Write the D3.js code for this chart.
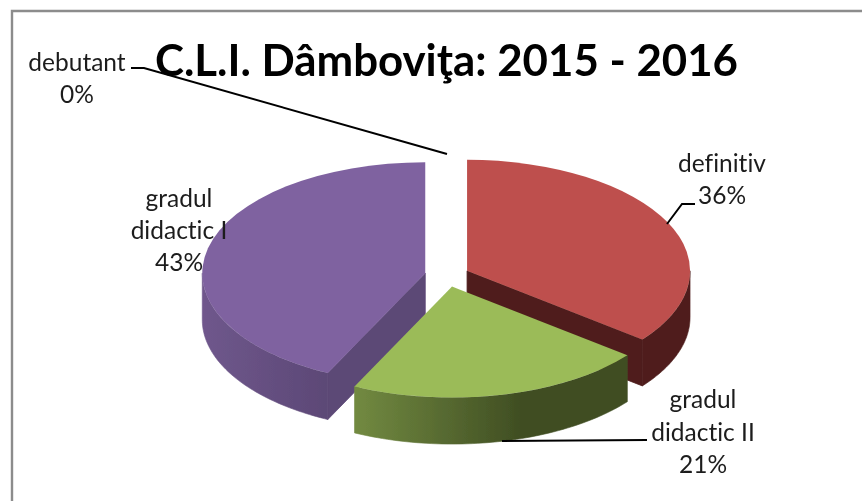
<!DOCTYPE html>
<html><head><meta charset="utf-8">
<script src="https://cdn.jsdelivr.net/npm/d3@7"></script>
<style>html,body{margin:0;padding:0;background:#fff}svg{display:block}text{font-family:Lato,"Open Sans",sans-serif;font-variant-ligatures:none;font-feature-settings:"liga" 0,"dlig" 0}</style>
</head><body><script>
const titleText = "C.L.I. Dâmboviţa: 2015 - 2016";
const categories = ["definitiv","gradul didactic II","gradul didactic I","debutant"];
const values = [35.6,21.6,42.8,0.0001];
const percentLabels = ["36%","21%","43%","0%"];
const topColors = ["#be504d","#9bbb59","#7f62a0","#4bacc6"];
const wallColors = ["#4f1f1d","#3f4d22","#5c4876","#2a6070"];
const wallLight = ["#4f1f1d","#728a41","#6f578c","#2a6070"];

const W=862,H=501;
const svg=d3.select("body").append("svg").attr("width",W).attr("height",H);
const defs=svg.append("defs");
defs.append("filter").attr("id","soft").append("feGaussianBlur").attr("stdDeviation",0.5);

svg.append("path").attr("d",d3.line()([[12,H],[12,11],[W,11]])).attr("fill","none").attr("stroke","#8c8c8c").attr("stroke-width",2.4);

const cx=447,cy=275.7,rx=223,ry=111,depth=46.5,explode=22.3;
const pie=d3.pie().sort(null).value(d=>d)(values);
const px=(a,c)=>c[0]+rx*Math.sin(a), py=(a,c)=>c[1]-ry*Math.cos(a);
const centerOf=d=>{const m=(d.startAngle+d.endAngle)/2;return [cx+explode*Math.sin(m),cy-explode*.5*Math.cos(m)];};
const line=d3.line();
const arcPts=(a0,a1,c,dy=0)=>d3.range(0,61).map(i=>{const a=a0+(a1-a0)*i/60;return [px(a,c),py(a,c)+dy];});

const root=svg.append("g").attr("filter","url(#soft)");
[0,2,1].forEach(i=>{
  const d=pie[i],c=centerOf(d),g=root.append("g");
  const a0=Math.max(d.startAngle,Math.PI/2),a1=Math.min(d.endAngle,Math.PI*1.5);
  const gid="w"+i;
  const lg=defs.append("linearGradient").attr("id",gid).attr("gradientUnits","userSpaceOnUse")
    .attr("x1",px(a1,c)).attr("x2",px(a0,c)).attr("y1",0).attr("y2",0);
  lg.append("stop").attr("offset",0).attr("stop-color",wallLight[i]);
  lg.append("stop").attr("offset",i===1?.62:1).attr("stop-color",wallColors[i]);
  lg.append("stop").attr("offset",1).attr("stop-color",wallColors[i]);
  const top=arcPts(a0,a1,c),bot=arcPts(a0,a1,c,depth).reverse();
  g.append("path").attr("fill",`url(#${gid})`).attr("stroke",`url(#${gid})`).attr("stroke-width",.6).attr("d",line(top.concat(bot))+"Z");
  const cut=i===0?d.endAngle:(i===2?d.startAngle:null);
  if(cut!==null){
    g.append("path").attr("fill",wallColors[i]).attr("stroke",wallColors[i]).attr("stroke-width",.8)
      .attr("d",line([c,[px(cut,c),py(cut,c)],[px(cut,c),py(cut,c)+depth],[c[0],c[1]+depth]])+"Z");
  }
  const arc=d3.arc().innerRadius(0).outerRadius(rx).startAngle(d.startAngle).endAngle(d.endAngle);
  g.append("path").attr("fill",topColors[i]).attr("d",arc())
    .attr("transform",`translate(${c[0]},${c[1]}) scale(1,${ry/rx})`);
});

const leaders=[[[131,68],[144,68],[447,154]],[[695,204],[682,204],[667,224]],[[647,440],[502,441]]];
leaders.forEach(p=>root.append("path").attr("d",line(p)).attr("fill","none").attr("stroke","#000").attr("stroke-width",2));

root.append("text").attr("x",446.5).attr("y",76).attr("text-anchor","middle")
  .attr("font-size",43.8).attr("font-weight",700).attr("fill","#000").text(titleText);

const labelLines=[["definitiv",percentLabels[0]],["gradul","didactic II",percentLabels[1]],["gradul","didactic I",percentLabels[2]],["debutant",percentLabels[3]]];
const labelX=[722,703,179,77];
const labelY=[172,408,207,71];
const lh=[32,32.5,32,32];
labelLines.forEach((ls,i)=>{
  const t=root.append("text").attr("text-anchor","middle").attr("font-size",24.5).attr("fill","#1c1c1c");
  ls.forEach((s,j)=>t.append("tspan").attr("x",labelX[i]).attr("y",labelY[i]+j*lh[i]).text(s));
});
</script></body></html>
